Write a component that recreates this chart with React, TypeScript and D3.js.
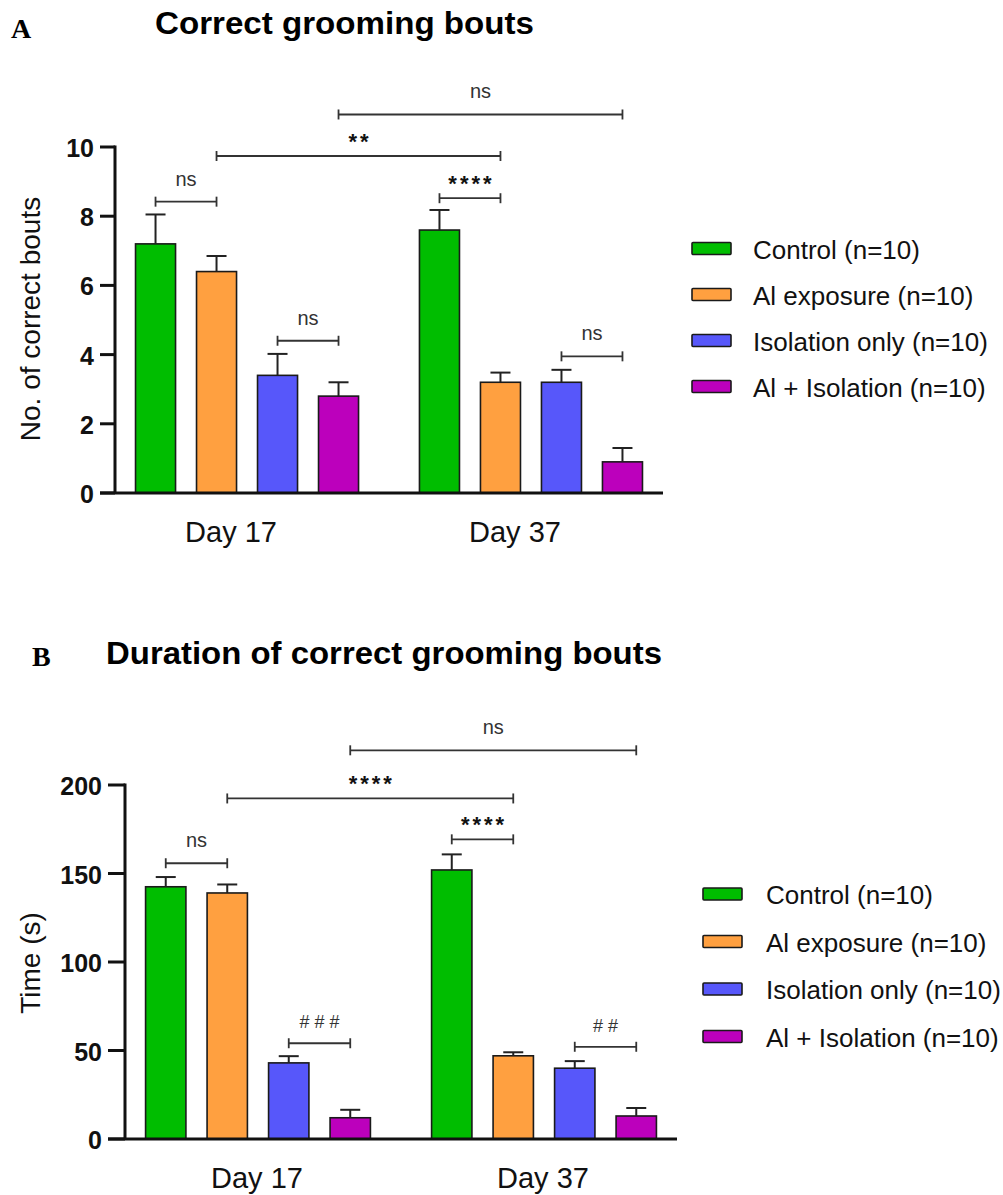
import React from "react";
import * as d3 from "d3";

// ---- data -------------------------------------------------------------
const days = ["Day 17", "Day 37"];
const groups = [
  "Control (n=10)",
  "Al exposure (n=10)",
  "Isolation only (n=10)",
  "Al + Isolation (n=10)",
];
const groupColors = ["#00bd00", "#ffa040", "#5757fa", "#bc00bc"];

// Panel A: number of correct grooming bouts (mean, SEM)
const boutsDay17 = [7.2, 6.4, 3.4, 2.8];
const boutsDay37 = [7.6, 3.2, 3.2, 0.9];
const boutsSemDay17 = [0.85, 0.45, 0.62, 0.4];
const boutsSemDay37 = [0.58, 0.28, 0.36, 0.4];
const boutsTicks = [0, 2, 4, 6, 8, 10];

// Panel B: duration of correct grooming bouts in seconds (mean, SEM)
const durationDay17 = [142.5, 139, 43, 12];
const durationDay37 = [152, 47, 40, 13];
const durationSemDay17 = [5.5, 4.8, 3.8, 4.5];
const durationSemDay37 = [8.8, 2, 4, 4.5];
const durationTicks = [0, 50, 100, 150, 200];

// Pairwise comparisons: [day, group] endpoints, bracket height, label
const boutsComparisons = [
  { a: [0, 0], b: [0, 1], level: 8.42, label: "ns" },
  { a: [0, 2], b: [0, 3], level: 4.4, label: "ns" },
  { a: [1, 0], b: [1, 1], level: 8.52, label: "****" },
  { a: [1, 2], b: [1, 3], level: 3.95, label: "ns" },
  { a: [0, 1], b: [1, 1], level: 9.74, label: "**" },
  { a: [0, 3], b: [1, 3], level: 10.94, label: "ns" },
];
const durationComparisons = [
  { a: [0, 0], b: [0, 1], level: 155.8, label: "ns" },
  { a: [0, 2], b: [0, 3], level: 54.1, label: "###" },
  { a: [1, 0], b: [1, 1], level: 169.3, label: "****" },
  { a: [1, 2], b: [1, 3], level: 52.1, label: "##" },
  { a: [0, 1], b: [1, 1], level: 192.4, label: "****" },
  { a: [0, 3], b: [1, 3], level: 219.6, label: "ns" },
];

const SANS = "'Liberation Sans', Arial, Helvetica, sans-serif";
const SERIF = "'Liberation Serif', 'Times New Roman', serif";
const INK = "#111";

type PanelProps = {
  letter: string;
  letterX: number;
  letterY: number;
  title: string;
  titleX: number;
  titleY: number;
  titleWidth: number;
  yLabel: string;
  yLabelCenter: number;
  yDomain: [number, number];
  yRange: [number, number];
  xRange: [number, number];
  innerStep: number;
  tickLen: number;
  ticks: number[];
  means: number[][];
  sems: number[][];
  comparisons: { a: number[]; b: number[]; level: number; label: string }[];
  dayLabelY: number;
  dayLabelShift: number;
  legendSwatchX: number;
  legendTextX: number;
  legendTop: number;
  legendStep: number;
};

function Panel(p: PanelProps) {
  const y = d3.scaleLinear().domain(p.yDomain).range(p.yRange);
  const x0 = d3.scalePoint<string>().domain(days).range(p.xRange).padding(0.465);
  const x1 = d3
    .scaleBand<string>()
    .domain(groups)
    .range([-2 * p.innerStep, 2 * p.innerStep])
    .paddingInner(0.344)
    .paddingOuter(0.172);
  const bw = x1.bandwidth();
  const barCenter = (d: number, g: number) =>
    (x0(days[d]) as number) + (x1(groups[g]) as number) + bw / 2;

  const axisX = p.xRange[0];
  const baseY = y(0);

  const labelNode = (label: string, cx: number, lineY: number) => {
    if (label === "ns") {
      return (
        <text x={cx} y={lineY - 16} textAnchor="middle" fontSize={20} fill="#333" fontFamily={SANS}>
          {label}
        </text>
      );
    }
    if (label.startsWith("*")) {
      return (
        <text
          x={cx + 1.5}
          y={lineY - 7}
          textAnchor="middle"
          fontSize={22}
          fontWeight="bold"
          letterSpacing={3}
          fill="#111"
          fontFamily={SANS}
        >
          {label}
        </text>
      );
    }
    return (
      <text
        x={cx + 2.5}
        y={lineY - 15}
        textAnchor="middle"
        fontSize={18}
        letterSpacing={5}
        fill="#333"
        fontFamily={SANS}
      >
        {label}
      </text>
    );
  };

  return (
    <g>
      <text x={p.letterX} y={p.letterY} fontFamily={SERIF} fontWeight="bold" fontSize={28} fill="#000">
        {p.letter}
      </text>
      <text
        x={p.titleX}
        y={p.titleY}
        fontFamily={SANS}
        fontWeight="bold"
        fontSize={31}
        fill="#000"
        textLength={p.titleWidth}
        lengthAdjust="spacingAndGlyphs"
      >
        {p.title}
      </text>

      {/* y axis label */}
      <text
        transform={`translate(40,${p.yLabelCenter}) rotate(-90)`}
        textAnchor="middle"
        fontFamily={SANS}
        fontSize={28}
        fill="#111"
      >
        {p.yLabel}
      </text>

      {/* bars */}
      {days.map((day, d) =>
        groups.map((g, gi) => {
          const v = p.means[d][gi];
          const cx = barCenter(d, gi);
          return (
            <rect
              key={`${day}-${g}`}
              x={cx - bw / 2}
              y={y(v)}
              width={bw}
              height={baseY - y(v)}
              fill={groupColors[gi]}
              stroke="#1a1a1a"
              strokeWidth={1.6}
            />
          );
        })
      )}

      {/* error bars (upper SEM) */}
      {days.map((day, d) =>
        groups.map((g, gi) => {
          const v = p.means[d][gi];
          const top = v + p.sems[d][gi];
          const cx = barCenter(d, gi);
          return (
            <g key={`err-${day}-${g}`} stroke="#222" strokeWidth={2}>
              <line x1={cx} x2={cx} y1={y(v)} y2={y(top)} />
              <line x1={cx - 10} x2={cx + 10} y1={y(top)} y2={y(top)} />
            </g>
          );
        })
      )}

      {/* axes */}
      <line x1={axisX} x2={axisX} y1={y(p.yDomain[1]) - 1.5} y2={baseY} stroke={INK} strokeWidth={3} />
      <line
        x1={axisX - p.tickLen}
        x2={p.xRange[1]}
        y1={baseY}
        y2={baseY}
        stroke={INK}
        strokeWidth={3}
      />
      {p.ticks.map((t) => (
        <g key={t}>
          <line x1={axisX - p.tickLen} x2={axisX} y1={y(t)} y2={y(t)} stroke={INK} strokeWidth={3} />
          <text
            x={axisX - p.tickLen - 6}
            y={y(t) + 1}
            textAnchor="end"
            dominantBaseline="central"
            fontFamily={SANS}
            fontWeight="bold"
            fontSize={25}
            fill="#111"
          >
            {t}
          </text>
        </g>
      ))}
      {days.map((day) => (
        <text
          key={day}
          x={(x0(day) as number) + p.dayLabelShift}
          y={p.dayLabelY}
          textAnchor="middle"
          fontFamily={SANS}
          fontSize={29}
          fill="#111"
        >
          {day}
        </text>
      ))}

      {/* comparison brackets */}
      {p.comparisons.map((c, i) => {
        const xa = barCenter(c.a[0], c.a[1]);
        const xb = barCenter(c.b[0], c.b[1]);
        const ly = y(c.level);
        return (
          <g key={i}>
            <g stroke="#333" strokeWidth={1.8}>
              <line x1={xa} x2={xb} y1={ly} y2={ly} />
              <line x1={xa} x2={xa} y1={ly - 5} y2={ly + 5} />
              <line x1={xb} x2={xb} y1={ly - 5} y2={ly + 5} />
            </g>
            {labelNode(c.label, (xa + xb) / 2, ly)}
          </g>
        );
      })}

      {/* legend */}
      {groups.map((g, gi) => {
        const cy = p.legendTop + gi * p.legendStep;
        return (
          <g key={g}>
            <rect
              x={p.legendSwatchX}
              y={cy - 6}
              width={39}
              height={12}
              fill={groupColors[gi]}
              stroke="#1a1a1a"
              strokeWidth={1.6}
              rx={1}
            />
            <text
              x={p.legendTextX}
              y={cy + 1}
              dominantBaseline="central"
              fontFamily={SANS}
              fontSize={26}
              fill="#111"
            >
              {g}
            </text>
          </g>
        );
      })}
    </g>
  );
}

export default function App() {
  return (
    <svg
      width={1003}
      height={1195}
      viewBox="0 0 1003 1195"
      style={{ position: "absolute", left: 0, top: 0, background: "#fff" }}
    >
      <rect width={1003} height={1195} fill="#fff" />
      <Panel
        letter="A"
        letterX={11}
        letterY={38}
        title="Correct grooming bouts"
        titleX={155}
        titleY={34}
        titleWidth={379}
        yLabel="No. of correct bouts"
        yLabelCenter={319}
        yDomain={[0, 10]}
        yRange={[493, 147]}
        xRange={[115, 663]}
        innerStep={61}
        tickLen={15}
        ticks={boutsTicks}
        means={[boutsDay17, boutsDay37]}
        sems={[boutsSemDay17, boutsSemDay37]}
        comparisons={boutsComparisons}
        dayLabelY={542}
        dayLabelShift={-16}
        legendSwatchX={692}
        legendTextX={753}
        legendTop={248.5}
        legendStep={46}
      />
      <Panel
        letter="B"
        letterX={32}
        letterY={666}
        title="Duration of correct grooming bouts"
        titleX={106}
        titleY={664}
        titleWidth={556}
        yLabel="Time (s)"
        yLabelCenter={963}
        yDomain={[0, 200]}
        yRange={[1139, 785]}
        xRange={[125, 677]}
        innerStep={61.5}
        tickLen={17}
        ticks={durationTicks}
        means={[durationDay17, durationDay37]}
        sems={[durationSemDay17, durationSemDay37]}
        comparisons={durationComparisons}
        dayLabelY={1188}
        dayLabelShift={-1}
        legendSwatchX={703}
        legendTextX={766}
        legendTop={894}
        legendStep={47.5}
      />
    </svg>
  );
}
